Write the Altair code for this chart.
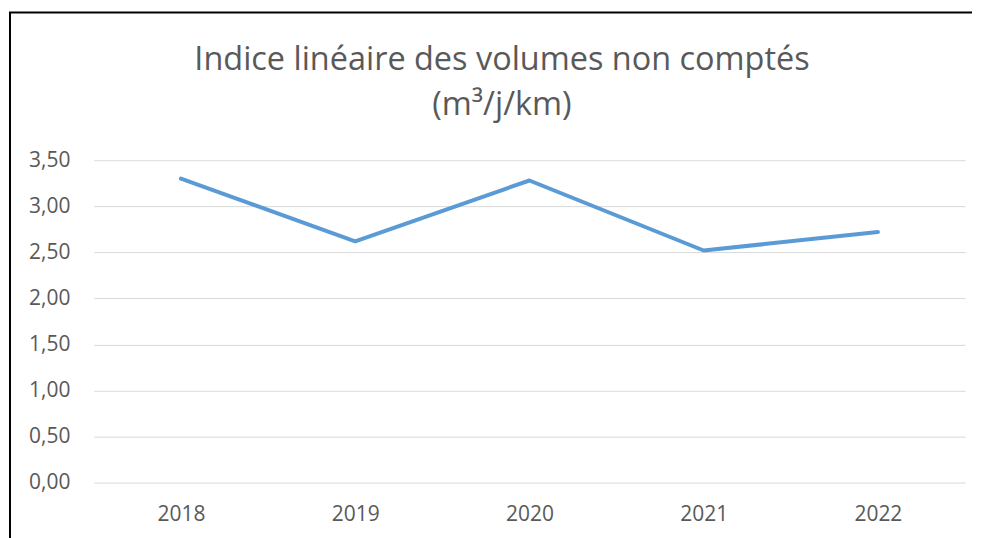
import altair as alt
import pandas as pd

years = ["2018", "2019", "2020", "2021", "2022"]
values = [3.30, 2.62, 3.28, 2.52, 2.72]
y_ticks = [0.0, 0.5, 1.0, 1.5, 2.0, 2.5, 3.0, 3.5]
title_lines = ["Indice linéaire des volumes non comptés", "(m³/j/km)"]

df = pd.DataFrame({"year": years, "value": values})

FONT = "Open Sans"
GREY = "#595959"

line = alt.Chart(df).mark_line(color="#5b9bd5", strokeWidth=4, strokeCap="round", strokeJoin="round").encode(
    x=alt.X("year:N", sort=years, title=None,
            axis=alt.Axis(labelAngle=0, labelFont=FONT, labelFontSize=21, labelColor=GREY,
                          labelPadding=21, ticks=False, domain=False, grid=False)),
    y=alt.Y("value:Q", title=None,
            scale=alt.Scale(domain=[0, 3.5], nice=False),
            axis=alt.Axis(values=y_ticks, labelFont=FONT, labelFontSize=21, labelColor=GREY,
                          labelPadding=24, ticks=False, domain=False, grid=True,
                          gridColor="#d9d9d9", gridWidth=1,
                          labelExpr="replace(format(datum.value, '.2f'), '.', ',')")),
)

frame_df = pd.DataFrame({"k": [0]})
left_border = alt.Chart(frame_df).mark_rule(color="#000000", strokeWidth=2).encode(
    x=alt.value(-84), y=alt.value(-148), y2=alt.value(390))
top_border = alt.Chart(frame_df).mark_rule(color="#000000", strokeWidth=2).encode(
    x=alt.value(-85), x2=alt.value(880), y=alt.value(-148))

title1 = alt.Chart(pd.DataFrame({"t": [title_lines[0]]})).mark_text(
    font=FONT, fontSize=32.5, color=GREY, align="center", baseline="middle").encode(
    text="t:N", x=alt.value(409), y=alt.value(-100))
title2 = alt.Chart(pd.DataFrame({"t": [title_lines[1]]})).mark_text(
    font=FONT, fontSize=32.5, color=GREY, align="center", baseline="middle").encode(
    text="t:N", x=alt.value(409), y=alt.value(-55))

chart = alt.layer(left_border, top_border, title1, title2, line).properties(
    width=873,
    height=323,
    padding={"left": 0, "top": 3, "right": 0, "bottom": 0},
).configure(background="white").configure_view(stroke=None)

chart.save("out.html", embed_options={"renderer": "svg", "actions": False})
